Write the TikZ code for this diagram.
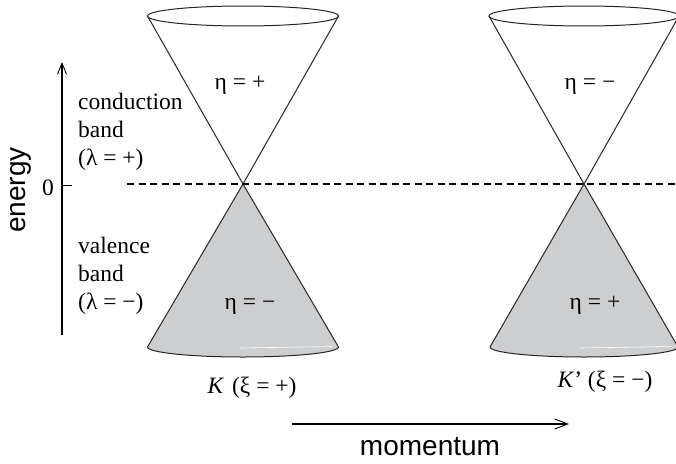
\documentclass[tikz,border=0pt]{standalone}
\usepackage{fontspec}
\setmainfont{Liberation Serif}
\newfontfamily\axfont{Liberation Sans}
\usetikzlibrary{arrows.meta}
\definecolor{conegray}{RGB}{205,206,208}
\begin{document}
\begin{tikzpicture}[x=1pt,y=-1pt,
  coneline/.style={draw=black!85,line width=1pt,line join=miter},
  conefill/.style={fill=conegray},
  lbl/.style={font=\fontsize{23.5}{26}\selectfont,inner sep=0pt,anchor=base},
  lbll/.style={lbl,anchor=base west},
  axlbl/.style={font=\axfont\fontsize{28}{30}\selectfont,inner sep=0pt},
  axarrow/.style={line width=1.3pt,-{Straight Barb[length=11pt,width=9pt,line width=0.9pt]}},
  zeroline/.style={dashed,dash pattern=on 7pt off 4.5pt,line width=1.1pt}]
\useasboundingbox (0,0) rectangle (676,463);

% ---- left cone (K) ----
\coordinate (KA) at (243,184);
\coordinate (KTL) at (147.5,16);
\coordinate (KTR) at (338.5,16);
\coordinate (KBL) at (147.5,347);
\coordinate (KBR) at (338.5,347);
\fill[conefill] (KBL) -- (KA) -- (KBR) arc[start angle=0,end angle=180,x radius=95.5,y radius=10] -- cycle;
\draw[white,line width=0.6pt] (240,348) -- (332,346.5);
\draw[coneline] (KBL) -- (KA) -- (KBR);
\draw[coneline] (KBR) arc[start angle=0,end angle=180,x radius=95.5,y radius=10];
\draw[coneline] (KTL) -- (KA) -- (KTR);
\draw[coneline] (243,16) ellipse[x radius=95.5,y radius=10];

% ---- right cone (K') ----
\coordinate (PA) at (584,184);
\coordinate (PTL) at (489,16);
\coordinate (PTR) at (679,16);
\coordinate (PBL) at (490,347);
\coordinate (PBR) at (678,347);
\fill[conefill] (PBL) -- (PA) -- (PBR) arc[start angle=0,end angle=180,x radius=94,y radius=10] -- cycle;
\draw[white,line width=0.6pt] (580,348) -- (672,346.5);
\draw[coneline] (PBL) -- (PA) -- (PBR);
\draw[coneline] (PBR) arc[start angle=0,end angle=180,x radius=94,y radius=10];
\draw[coneline] (PTL) -- (PA) -- (PTR);
\draw[coneline] (584,16) ellipse[x radius=95,y radius=10];

% ---- zero energy line ----
\coordinate (Z0) at (127,184);
\coordinate (Z1) at (676,184);
\draw[zeroline] (Z0) -- (Z1);

% ---- energy axis ----
\coordinate (E0) at (62,335);
\coordinate (E1) at (62,62);
\draw[axarrow] (E0) -- (E1);
\coordinate (T0) at (62,185.5);
\coordinate (T1) at (72,185.5);
\draw[line width=1pt] (T0) -- (T1);
\node[lbl] (zero) at (48,195) {0};
\node[axlbl,rotate=90] (energy) at (21,190) {energy};

% ---- momentum axis ----
\coordinate (M0) at (292,424);
\coordinate (M1) at (569,424);
\draw[axarrow,-{Straight Barb[length=13pt,width=10pt,line width=0.9pt]}] (M0) -- (M1);
\node[axlbl,anchor=base] (momentum) at (430,455) {momentum};

% ---- band labels ----
\node[lbll] (cb1) at (78,109) {conduction};
\node[lbll] (cb2) at (78,137) {band};
\node[lbll] (cb3) at (78,165) {(λ = +)};
\node[lbll] (vb1) at (78,253) {valence};
\node[lbll] (vb2) at (78,281) {band};
\node[lbll] (vb3) at (78,309) {(λ = −)};

% ---- eta labels ----
\node[lbl] (etaKc) at (240,89) {η = +};
\node[lbl] (etaKv) at (250,309) {η = −};
\node[lbl] (etaPc) at (590,89) {η = −};
\node[lbl] (etaPv) at (595,309) {η = +};

% ---- valley labels ----
\node[lbl] (Klab) at (252,393) {\textit{K}\,\,(ξ = +)};
\node[lbl] (Plab) at (605,387) {\textit{K}’ (ξ = −)};
\end{tikzpicture}
\end{document}
